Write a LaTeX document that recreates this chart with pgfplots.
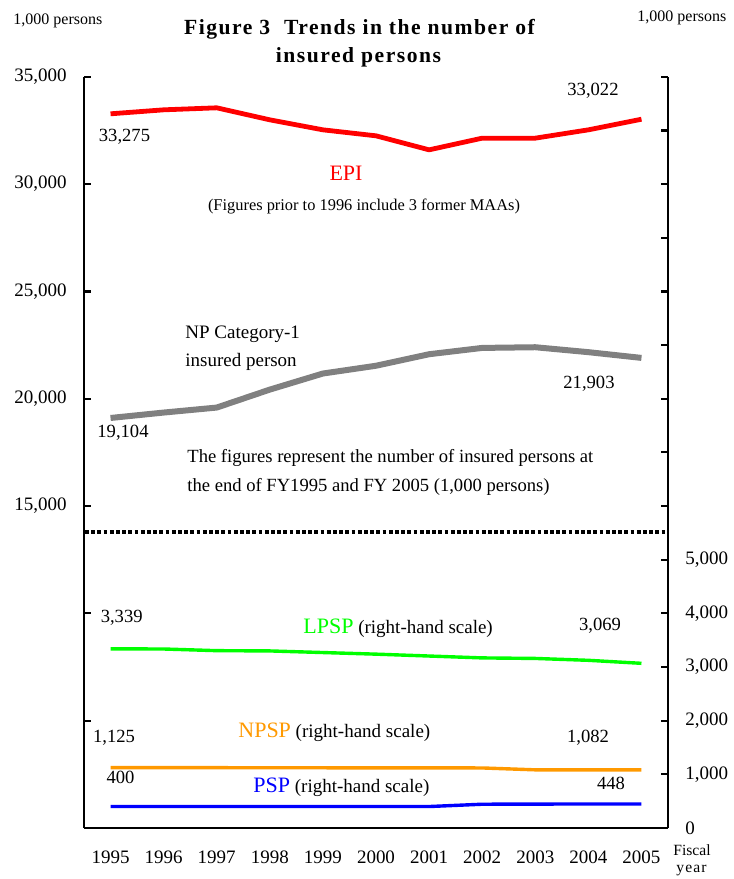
\documentclass[border=0pt]{standalone}
\usepackage{fontspec}
\setmainfont{Liberation Serif}
\usepackage{pgfplots}
\pgfplotsset{compat=1.18}
\definecolor{cred}{RGB}{255,0,0}
\definecolor{cgray}{RGB}{128,128,128}
\definecolor{cgreen}{RGB}{0,255,0}
\definecolor{corange}{RGB}{255,153,0}
\definecolor{cblue}{RGB}{0,0,255}
\newcommand{\fs}[1]{\fontsize{#1}{#1}\selectfont}
\pgfplotsset{
  common/.style={
    scale only axis, width=292pt, height=375.6pt,
    at={(42pt,25.5pt)}, anchor=south west,
    xmin=1994.5, xmax=2005.5,
    axis line style={-, line width=1.1pt, black},
    tick align=inside, major tick length=3.5pt,
    tick style={line width=1.1pt, black},
    scaled y ticks=false,
    /pgf/number format/assume math mode=true,
    tick label style={font=\fs{9.5}},
  }
}
\begin{document}
\begin{tikzpicture}
\begin{scope}[x=0.5pt,y=-0.5pt,shift={(0pt,439.5pt)}]
\path[use as bounding box] (0,0) rectangle (734,879);
\end{scope}

% left-hand scale
\begin{axis}[common,
  ymin=0, ymax=35000,
  axis x line*=bottom, axis y line*=left,
  xtick={1995,1996,1997,1998,1999,2000,2001,2002,2003,2004,2005},
  xticklabels={1995,1996,1997,1998,1999,2000,2001,2002,2003,2004,2005},
  x tick style={draw=none},
  xticklabel style={anchor=base, inner sep=0pt, yshift=-17.5pt},
  ytick={15000,20000,25000,30000,35000},
  extra y ticks={0,5000,10000}, extra y tick labels={},
  yticklabel style={anchor=east, inner sep=0pt, xshift=-8.5pt},
]
\addplot[cred, line width=2.4pt, line join=round] coordinates {
 (1995,33275)(1996,33461)(1997,33555)(1998,32995)(1999,32529)(2000,32250)
 (2001,31597)(2002,32141)(2003,32141)(2004,32529)(2005,33022)};
\addplot[cgray, line width=3pt, line join=round] coordinates {
 (1995,19104)(1996,19356)(1997,19589)(1998,20426)(1999,21175)(2000,21537)
 (2001,22074)(2002,22368)(2003,22400)(2004,22170)(2005,21903)};
\end{axis}

% right-hand scale
\begin{axis}[common,
  ymin=0, ymax=14000,
  axis x line=none, axis y line*=right,
  ytick={0,1000,2000,3000,4000,5000},
  extra y ticks={6000,7000,8000,9000,10000,11000,12000,13000,14000}, extra y tick labels={},
  yticklabel style={anchor=west, inner sep=0pt, xshift=8.5pt},
]
\addplot[cgreen, line width=1.7pt, line join=round] coordinates {
 (1995,3339)(1996,3336)(1997,3305)(1998,3300)(1999,3270)(2000,3240)
 (2001,3205)(2002,3170)(2003,3160)(2004,3125)(2005,3069)};
\addplot[corange, line width=1.7pt, line join=round] coordinates {
 (1995,1125)(1996,1125)(1997,1124)(1998,1123)(1999,1122)(2000,1121)
 (2001,1120)(2002,1119)(2003,1084)(2004,1083)(2005,1082)};
\addplot[cblue, line width=1.7pt, line join=round] coordinates {
 (1995,400)(1996,400)(1997,400)(1998,400)(1999,400)(2000,400)
 (2001,400)(2002,443)(2003,446)(2004,447)(2005,448)};
\end{axis}

\begin{scope}[x=0.5pt,y=-0.5pt,shift={(0pt,439.5pt)},every node/.style={inner sep=0pt}]
\draw[line width=1.9pt, dash pattern=on 1.9pt off 1.2pt] (85,532) -- (668,532);
% units
\node[anchor=base west, font=\fs{8}] at (13,25) {1,000 persons};
\node[anchor=base west, font=\fs{8}] at (637,22) {1,000 persons};
% title
\node[anchor=base, font=\bfseries\fs{10.8}\addfontfeature{LetterSpace=7}] at (359.5,35) {Figure 3\ \ Trends in the number of};
\node[anchor=base, font=\bfseries\fs{10.8}\addfontfeature{LetterSpace=7}] at (358.5,63) {insured persons};
% fiscal year
\node[anchor=base west, font=\fs{7.8}] at (673,855) {Fiscal};
\node[anchor=base west, font=\fs{7.8}\addfontfeature{LetterSpace=7}] at (676,873) {year};
% EPI
\node[anchor=base, font=\fs{9.3}] at (124.5,141.5) {33,275};
\node[anchor=base, font=\fs{9.3}] at (593,96) {33,022};
\node[anchor=base, font=\fs{11}, text=cred] at (346,181) {EPI};
\node[anchor=base, font=\fs{8.2}] at (364,211) {(Figures prior to 1996 include 3 former MAAs)};
% NP
\node[anchor=base west, font=\fs{9.5}] at (185,339) {NP Category-1};
\node[anchor=base west, font=\fs{9.5}] at (185,366.5) {insured person};
\node[anchor=base, font=\fs{9.3}] at (123,438) {19,104};
\node[anchor=base, font=\fs{9.3}] at (589,389) {21,903};
\node[anchor=base west, font=\fs{9.3}] at (187,463) {The figures represent the number of insured persons at};
\node[anchor=base west, font=\fs{9.3}] at (187,491.5) {the end of FY1995 and FY 2005 (1,000 persons)};
% LPSP
\node[anchor=base, font=\fs{9.3}] at (121.7,622.5) {3,339};
\node[anchor=base, font=\fs{9.3}] at (600,630.5) {3,069};
\node[anchor=base west, font=\fs{9.5}] at (303,634) {{\fs{11}\color{cgreen}LPSP} (right-hand scale)};
% NPSP
\node[anchor=base, font=\fs{9.3}] at (114,743) {1,125};
\node[anchor=base, font=\fs{9.3}] at (588,742.5) {1,082};
\node[anchor=base west, font=\fs{9.5}] at (238,738) {{\fs{11}\color{corange}NPSP} (right-hand scale)};
% PSP
\node[anchor=base, font=\fs{9.3}] at (120.5,784) {400};
\node[anchor=base, font=\fs{9.3}] at (611,789) {448};
\node[anchor=base west, font=\fs{9.5}] at (253,793) {{\fs{11}\color{cblue}PSP} (right-hand scale)};
\end{scope}
\end{tikzpicture}
\end{document}
